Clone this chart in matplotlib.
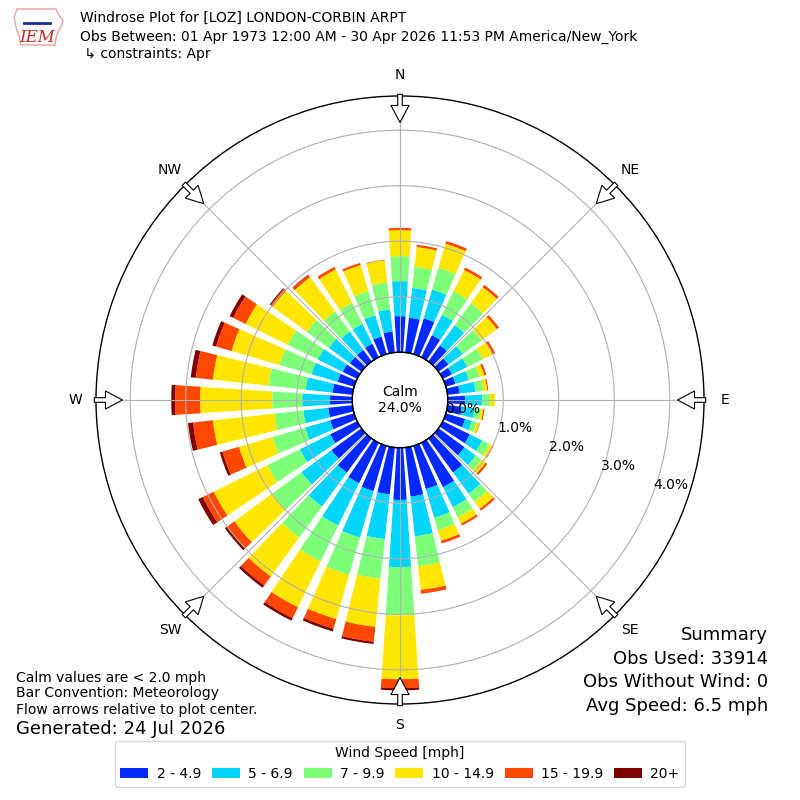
import matplotlib
matplotlib.use("Agg")
import matplotlib.pyplot as plt
import numpy as np
from matplotlib.patches import Patch, Polygon

# direction bins (degrees, meteorological convention)
directions = np.arange(0, 360, 10)

# percent of observations per direction, per speed bin
spd_2_5 = [0.65, 0.63, 0.67, 0.44, 0.36, 0.22, 0.18, 0.18, 0.22, 0.31, 0.26, 0.36,
           0.54, 0.58, 0.76, 0.89, 0.81, 0.89, 0.94, 0.85, 0.85, 0.81, 0.76, 0.67,
           0.54, 0.45, 0.44, 0.40, 0.36, 0.31, 0.29, 0.26, 0.26, 0.27, 0.33, 0.38]
spd_5_7 = [0.63, 0.54, 0.54, 0.41, 0.45, 0.32, 0.31, 0.25, 0.29, 0.31, 0.23, 0.13,
           0.25, 0.25, 0.47, 0.40, 0.54, 0.72, 1.21, 0.81, 0.87, 0.85, 0.76, 0.67,
           0.61, 0.47, 0.45, 0.50, 0.49, 0.49, 0.50, 0.47, 0.41, 0.40, 0.40, 0.40]
spd_7_10 = [0.45, 0.38, 0.41, 0.47, 0.49, 0.42, 0.31, 0.20, 0.14, 0.14, 0.11, 0.09,
            0.15, 0.13, 0.18, 0.20, 0.23, 0.54, 0.87, 0.72, 0.70, 0.72, 0.69, 0.65,
            0.65, 0.61, 0.52, 0.54, 0.67, 0.60, 0.60, 0.49, 0.45, 0.42, 0.45, 0.49]
spd_10_15 = [0.47, 0.36, 0.45, 0.43, 0.36, 0.34, 0.20, 0.09, 0.07, 0.09, 0.05, 0.05,
             0.07, 0.09, 0.16, 0.13, 0.20, 0.43, 1.15, 0.87, 0.83, 0.92, 0.87, 0.85,
             1.08, 0.63, 1.12, 1.30, 1.01, 0.90, 0.85, 0.76, 0.76, 0.67, 0.49, 0.40]
spd_15_20 = [0.04, 0.04, 0.05, 0.05, 0.05, 0.05, 0.05, 0.04, 0.02, 0.00, 0.02, 0.01,
             0.01, 0.04, 0.04, 0.04, 0.05, 0.07, 0.16, 0.27, 0.18, 0.22, 0.20, 0.16,
             0.22, 0.31, 0.36, 0.45, 0.31, 0.29, 0.25, 0.05, 0.05, 0.05, 0.04, 0.01]
spd_20p = [0.00, 0.00, 0.00, 0.00, 0.00, 0.00, 0.00, 0.00, 0.00, 0.00, 0.00, 0.00,
           0.00, 0.00, 0.00, 0.00, 0.00, 0.00, 0.04, 0.04, 0.05, 0.05, 0.05, 0.05,
           0.09, 0.05, 0.09, 0.07, 0.09, 0.07, 0.07, 0.02, 0.01, 0.00, 0.00, 0.00]

speed_labels = ["2 - 4.9", "5 - 6.9", "7 - 9.9", "10 - 14.9", "15 - 19.9", "20+"]
calm_pct = 24.0
ring_values = [0, 1, 2, 3, 4]
compass = ["N", "NE", "E", "SE", "S", "SW", "W", "NW"]

colors = plt.cm.jet(np.arange(1, 7) / 6.0)

fig = plt.figure(figsize=(8, 8), dpi=100)
ax = fig.add_axes([0.12, 0.12, 0.76, 0.76], projection="polar")
ax.set_theta_zero_location("N")
ax.set_theta_direction(-1)
ax.set_rorigin(-0.861)
ax.set_ylim(0, 4.616)

theta = np.deg2rad(directions)
bottom = np.zeros(len(directions))
for vals, col in zip([spd_2_5, spd_5_7, spd_7_10, spd_10_15, spd_15_20, spd_20p], colors):
    vals = np.array(vals)
    ax.bar(theta, vals, width=np.deg2rad(7.6), bottom=bottom, color=col,
           linewidth=0, zorder=1)
    bottom += vals

# grid
ax.set_axisbelow(False)
ax.set_rgrids([1, 2, 3, 4], labels=[""] * 4)
ax.set_thetagrids(np.arange(0, 360, 45), labels=[""] * 8)
ax.grid(True, color="#b0b0b0", linewidth=0.8, zorder=2)
ax.spines["polar"].set_linewidth(1.0)

# calm hole outline
tt = np.linspace(0, 2 * np.pi, 361)
ax.plot(tt, np.zeros_like(tt), color="k", lw=1.0, zorder=3, clip_on=False)
ax.text(0, -0.861, "Calm\n%.1f%%" % calm_pct, ha="center", va="center", fontsize=10)

# ring labels
for rv in ring_values:
    ax.text(np.deg2rad(110), rv, "%.1f%%" % rv, ha="left", va="bottom", fontsize=10,
            zorder=4)

# compass labels and flow arrows
for i, lab in enumerate(compass):
    ang = np.deg2rad(i * 45)
    ax.text(ang, 4.995, lab, ha="center", va="center", fontsize=10, clip_on=False)
    ax.annotate("", xy=(ang, 4.14), xytext=(ang, 4.647), annotation_clip=False,
                arrowprops=dict(arrowstyle="simple,head_length=1.22,head_width=1.3,tail_width=0.33",
                                mutation_scale=10, fc="white", ec="k", lw=0.8,
                                shrinkA=0, shrinkB=0, clip_on=False),
                zorder=5)

# header
fig.text(0.1, 1 - 18 / 800, "Windrose Plot for [LOZ] LONDON-CORBIN ARPT", fontsize=10, va="center")
fig.text(0.1, 1 - 37 / 800, "Obs Between: 01 Apr 1973 12:00 AM - 30 Apr 2026 11:53 PM America/New_York",
         fontsize=10, va="center")
fig.text(0.1, 1 - 54 / 800, " ↳ constraints: Apr", fontsize=10, va="center")

# IEM logo (rough)
iowa = [(17, 9), (56, 9), (58, 14), (63, 20), (61, 27), (58, 32), (56, 38), (55, 45),
        (21, 45), (19, 36), (16, 27), (14, 17), (16, 12)]
fig.patches.append(Polygon([(x / 800, 1 - y / 800) for x, y in iowa], closed=True,
                           transform=fig.transFigure, fill=False, ec="#e8a0a0", lw=1))
fig.lines.append(plt.Line2D([24 / 800, 50 / 800], [1 - 23 / 800, 1 - 23 / 800],
                            transform=fig.transFigure, color="#1a2a9a", lw=2))
fig.text(37 / 800, 1 - 37 / 800, "IEM", fontsize=12, color="#cc2222", style="italic",
         family="DejaVu Serif", ha="center", va="center")

# footer left
fig.text(16 / 800, 1 - 678 / 800, "Calm values are < 2.0 mph", fontsize=10, va="center")
fig.text(16 / 800, 1 - 693 / 800, "Bar Convention: Meteorology", fontsize=10, va="center")
fig.text(16 / 800, 1 - 710 / 800, "Flow arrows relative to plot center.", fontsize=10, va="center")
fig.text(16 / 800, 1 - 729 / 800, "Generated: 24 Jul 2026", fontsize=13, va="center")

# summary right
summary = ["Summary", "Obs Used: 33914", "Obs Without Wind: 0", "Avg Speed: 6.5 mph"]
for txt, y in zip(summary, [635, 659, 682, 706]):
    fig.text(768 / 800, 1 - y / 800, txt, fontsize=13, ha="right", va="center")

handles = [Patch(facecolor=c, label=l) for c, l in zip(colors, speed_labels)]
fig.legend(handles=handles, loc="lower center", bbox_to_anchor=(0.5, 0.008), ncol=6,
           title="Wind Speed [mph]", fontsize=10, title_fontsize=10,
           columnspacing=0.8, handletextpad=0.6)

fig.savefig("out.png", dpi=100)
